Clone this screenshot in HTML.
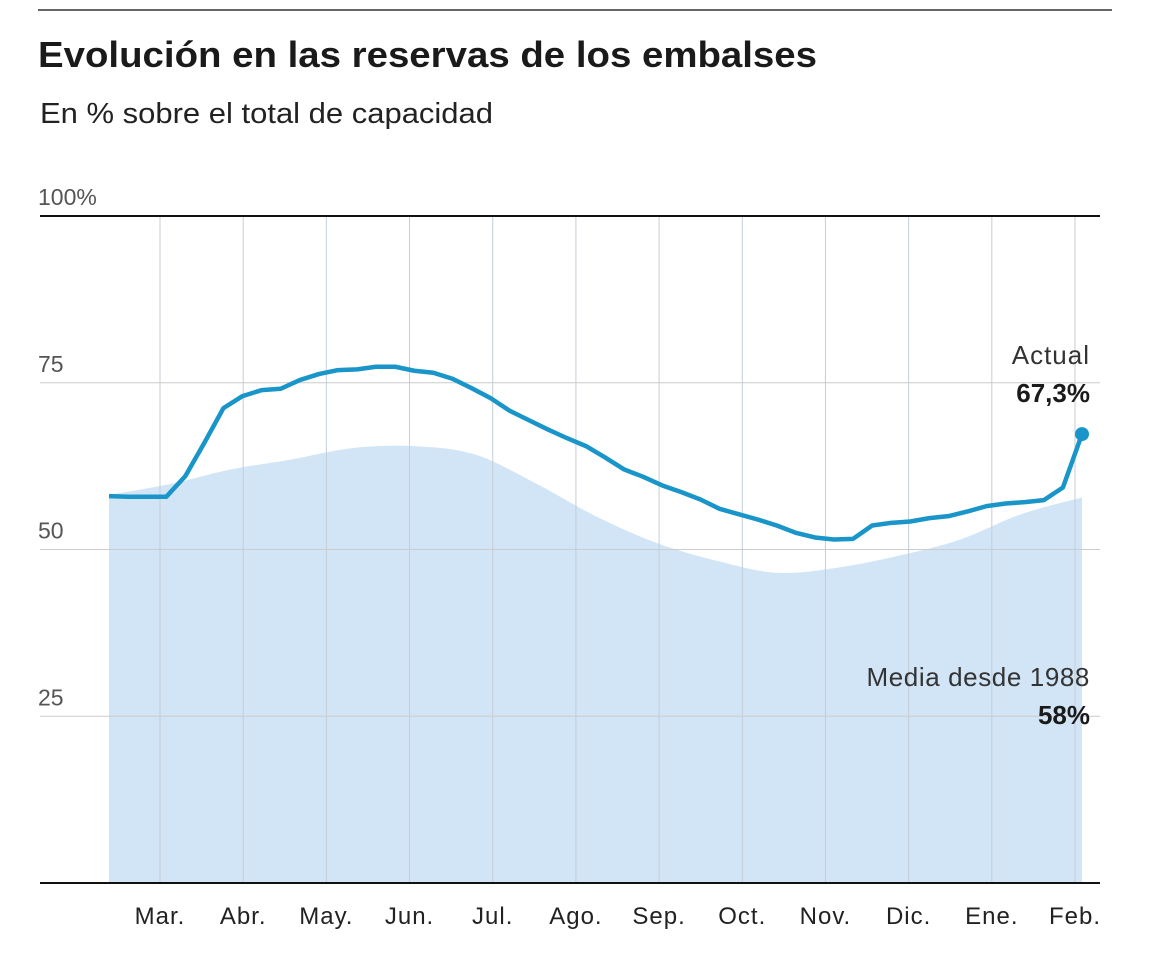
<!DOCTYPE html>
<html><head><meta charset="utf-8"><style>
body{margin:0;background:#fff;}
svg{display:block;font-family:"Liberation Sans Narrow","Liberation Sans",sans-serif;}
</style></head><body>
<svg id="chart" width="1158" height="978" viewBox="0 0 1158 978" xmlns="http://www.w3.org/2000/svg">
<line x1="38" y1="10" x2="1112" y2="10" stroke="#333" stroke-width="1.5"/>
<text x="38" y="67" font-size="36" font-weight="bold" fill="#1a1a1a" textLength="779" lengthAdjust="spacingAndGlyphs">Evolución en las reservas de los embalses</text>
<text x="40" y="123" font-size="29" fill="#222" textLength="453" lengthAdjust="spacingAndGlyphs">En % sobre el total de capacidad</text>
<g id="area"></g><g id="grid"></g><g id="line"></g><g id="labels"></g>
<text x="1090" y="364" font-size="26" fill="#333" text-anchor="end" letter-spacing="1">Actual</text>
<text x="1090" y="402" font-size="26" font-weight="bold" fill="#1a1a1a" text-anchor="end">67,3%</text>
<text x="1090" y="686" font-size="26" fill="#333" text-anchor="end" letter-spacing="0.6">Media desde 1988</text>
<text x="1090" y="724" font-size="26" font-weight="bold" fill="#1a1a1a" text-anchor="end">58%</text>
</svg>
<script>
const months=["Mar.","Abr.","May.","Jun.","Jul.","Ago.","Sep.","Oct.","Nov.","Dic.","Ene.","Feb."];
const yTicks=[0,25,50,75,100];
const yTickLabels=["","25","50","75","100%"];
const actual=[58.0,57.9,57.9,57.9,61.0,66.0,71.2,73.0,73.9,74.1,75.4,76.3,76.9,77.0,77.4,77.4,76.8,76.5,75.6,74.2,72.7,70.8,69.4,68.0,66.7,65.5,63.8,62.0,60.9,59.6,58.6,57.5,56.1,55.3,54.5,53.6,52.5,51.8,51.5,51.6,53.6,54.0,54.2,54.7,55.0,55.7,56.5,56.9,57.1,57.4,59.3,67.3];
const media=[58.2,59.8,62.0,63.5,65.2,65.5,64.3,60.0,55.0,51.0,48.3,46.5,47.3,49.1,51.5,55.3,57.8];
const NS="http://www.w3.org/2000/svg";
const x0=109,x1=1082;
const y=v=>883-v*(883-216)/100;
const mx=i=>160+i*(1075-160)/11;
const lx=i=>x0+i*(x1-x0)/(actual.length-1);
const ax=i=>x0+i*(x1-x0)/(media.length-1);
function mk(tag,attrs,parent){const e=document.createElementNS(NS,tag);for(const k in attrs)e.setAttribute(k,attrs[k]);document.getElementById(parent).appendChild(e);return e;}
let pts=media.map((v,i)=>[ax(i),y(v)]);
let d="M"+x0+","+y(0)+" L"+pts[0][0]+","+pts[0][1];
for(let i=0;i<pts.length-1;i++){const p0=pts[Math.max(0,i-1)],p1=pts[i],p2=pts[i+1],p3=pts[Math.min(pts.length-1,i+2)];
d+=` C${p1[0]+(p2[0]-p0[0])/6},${p1[1]+(p2[1]-p0[1])/6} ${p2[0]-(p3[0]-p1[0])/6},${p2[1]-(p3[1]-p1[1])/6} ${p2[0]},${p2[1]}`;}
d+=" L"+x1+","+y(0)+"Z";
const ar=mk("path",{d:d,fill:"#d2e5f6"},"area");


months.forEach((m,i)=>{
const g=mk("line",{x1:mx(i),x2:mx(i),y1:216,y2:883,stroke:"#c4cdd6","stroke-width":1},"grid");


const t=mk("text",{x:mx(i),y:924,"font-size":24,fill:"#222","text-anchor":"middle","letter-spacing":1},"labels");
t.textContent=m;


});
yTicks.forEach((v,i)=>{
const g=mk("line",{x1:40,x2:1100,y1:y(v),y2:y(v),stroke:(v==0||v==100)?"#111":"#ccc","stroke-width":(v==0||v==100)?2:1},"grid");


if(yTickLabels[i]){const t=mk("text",{x:38,y:y(v)-11,"font-size":23,fill:"#555"},"labels");
t.textContent=yTickLabels[i];

}
});
const ln=mk("polyline",{points:actual.map((v,i)=>lx(i)+","+y(v)).join(" "),fill:"none",stroke:"#1a95c9","stroke-width":4.5,"stroke-linejoin":"round"},"line");


const dot=mk("circle",{cx:lx(actual.length-1),cy:y(actual[actual.length-1]),r:7,fill:"#1a95c9"},"line");


</script>
</body></html>
